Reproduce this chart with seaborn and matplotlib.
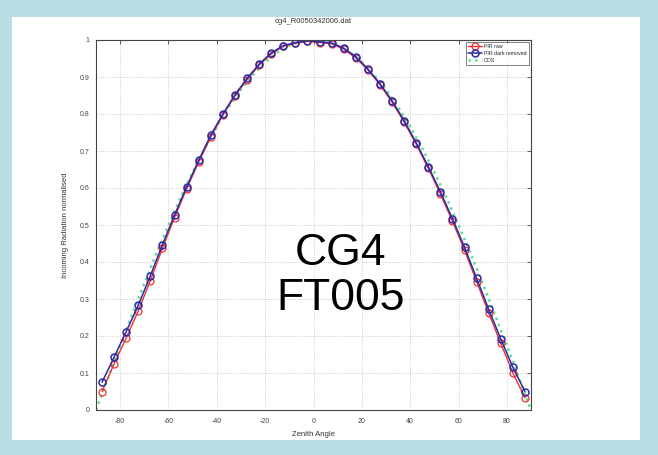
import matplotlib
matplotlib.use("Agg")
import matplotlib.pyplot as plt
import seaborn as sns
import numpy as np
import pandas as pd
from matplotlib.patches import Rectangle

# ---- data ----
angles = [-87.5, -82.5, -77.5, -72.5, -67.5, -62.5, -57.5, -52.5, -47.5,
          -42.5, -37.5, -32.5, -27.5, -22.5, -17.5, -12.5, -7.5, -2.5,
          2.5, 7.5, 12.5, 17.5, 22.5, 27.5, 32.5, 37.5, 42.5,
          47.5, 52.5, 57.5, 62.5, 67.5, 72.5, 77.5, 82.5, 87.5]
pir_raw = [0.050, 0.125, 0.195, 0.268, 0.350, 0.437, 0.520, 0.598, 0.670,
           0.738, 0.797, 0.849, 0.893, 0.932, 0.962, 0.983, 0.991, 0.996,
           0.993, 0.990, 0.975, 0.952, 0.919, 0.879, 0.832, 0.778, 0.718,
           0.653, 0.584, 0.510, 0.432, 0.347, 0.262, 0.180, 0.100, 0.033]
pir_dark = [0.075, 0.143, 0.212, 0.283, 0.363, 0.447, 0.527, 0.603, 0.675,
            0.743, 0.800, 0.852, 0.896, 0.935, 0.965, 0.985, 0.993, 0.998,
            0.995, 0.992, 0.978, 0.955, 0.922, 0.882, 0.836, 0.782, 0.722,
            0.658, 0.590, 0.517, 0.440, 0.356, 0.272, 0.192, 0.115, 0.050]
cos_angles = [-90, -85, -80, -75, -70, -65, -60, -55, -50, -45, -40, -35,
              -30, -25, -20, -15, -10, -5, 0, 5, 10, 15, 20, 25, 30, 35,
              40, 45, 50, 55, 60, 65, 70, 75, 80, 85, 90]
cos_vals = [0.000, 0.087, 0.174, 0.259, 0.342, 0.423, 0.500, 0.574, 0.643,
            0.707, 0.766, 0.819, 0.866, 0.906, 0.940, 0.966, 0.985, 0.996,
            1.000, 0.996, 0.985, 0.966, 0.940, 0.906, 0.866, 0.819, 0.766,
            0.707, 0.643, 0.574, 0.500, 0.423, 0.342, 0.259, 0.174, 0.087,
            0.000]
x_ticks = [-80, -60, -40, -20, 0, 20, 40, 60, 80]
y_ticks = [0, 0.1, 0.2, 0.3, 0.4, 0.5, 0.6, 0.7, 0.8, 0.9, 1]
y_ticklabels = ["0", "0.1", "0.2", "0.3", "0.4", "0.5", "0.6", "0.7", "0.8", "0.9", "1"]
series_labels = ["PIR raw", "PIR dark removed", "COS"]
title = "cg4_R0050342006.dat"

sns.set_style("white")
plt.rcParams["font.family"] = ["Liberation Sans", "DejaVu Sans"]

W, H = 658, 455
fig = plt.figure(figsize=(W / 100, H / 100), dpi=100)
fig.patch.set_facecolor("#b9dee3")
# white slide panel
panel = Rectangle((12 / W, 1 - 440 / H), (640 - 12) / W, (440 - 17) / H,
                  transform=fig.transFigure, facecolor="white",
                  edgecolor="none", zorder=-5)
fig.add_artist(panel)

ax = fig.add_axes([96 / W, 1 - 410 / H, (531 - 96) / W, (410 - 40) / H])
ax.set_zorder(2)
ax.set_facecolor("white")

df_raw = pd.DataFrame({"angle": angles, "value": pir_raw})
df_dark = pd.DataFrame({"angle": angles, "value": pir_dark})
df_cos = pd.DataFrame({"angle": cos_angles, "value": cos_vals})

sns.lineplot(data=df_cos, x="angle", y="value", ax=ax, color="#5fe08a",
             lw=1.8, linestyle=":", label=series_labels[2], sort=False)
sns.lineplot(data=df_raw, x="angle", y="value", ax=ax, color="#f03030",
             marker="o", markersize=5, markerfacecolor="none",
             markeredgecolor="#f03030", markeredgewidth=0.9, lw=1.0,
             label=series_labels[0], sort=False)
sns.lineplot(data=df_dark, x="angle", y="value", ax=ax, color="#2a2aa8",
             marker="o", markersize=5, markerfacecolor="none",
             markeredgecolor="#2a2aa8", markeredgewidth=1.1, lw=1.1,
             label=series_labels[1], sort=False)

ax.set_xlim(-90, 90)
ax.set_ylim(0, 1)
ax.set_xticks(x_ticks)
ax.set_xticklabels([str(t) for t in x_ticks], fontsize=5, color="#333333")
ax.set_yticks(y_ticks)
ax.set_yticklabels(y_ticklabels, fontsize=5, color="#333333")
ax.tick_params(direction="in", length=3, width=0.6, top=True, right=True,
               colors="#444444")
ax.tick_params(axis="x", pad=6)
ax.tick_params(axis="y", pad=4.5)
ax.grid(True, linestyle=":", color="#c0c0c0", lw=0.6)
for s in ax.spines.values():
    s.set_visible(True)
    s.set_color("#444444")
    s.set_linewidth(0.8)

ax.set_xlabel("Zenith Angle", fontsize=5.5, color="#333333", labelpad=4)
ax.set_ylabel("Incoming Radiation normalised", fontsize=5.5, color="#333333",
              labelpad=8)
ax.set_title(title, fontsize=5.5, color="#333333", pad=12)

h, l = ax.get_legend_handles_labels()
order = [l.index(s) for s in series_labels]
leg = ax.legend([h[i] for i in order], [l[i] for i in order],
                loc="upper right", fontsize=3.8, frameon=True, fancybox=False,
                edgecolor="#444444", handlelength=2.6, borderpad=0.4,
                labelspacing=0.35, borderaxespad=0.4, handletextpad=0.5)
leg.get_frame().set_linewidth(0.6)

txt = fig.text(341 / W, 1 - 276 / H, "CG4\nFT005", fontsize=32, ha="center",
               va="center", color="black", linespacing=1.15,
               family=["Liberation Sans", "DejaVu Sans"])
txt.set_zorder(10)

fig.savefig("out.png", dpi=100, facecolor=fig.get_facecolor())
